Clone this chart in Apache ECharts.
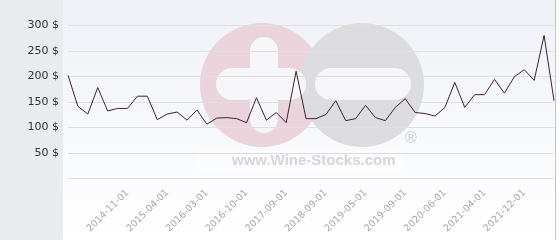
<!DOCTYPE html>
<html><head><meta charset="utf-8">
<script src="https://cdn.jsdelivr.net/npm/echarts@6/dist/echarts.min.js"></script>
<style>html,body{margin:0;padding:0;background:#fff}#c{width:560px;height:240px}</style>
</head><body><div id="c"></div>
<script>
const categories = [
 '2014-04-01','2014-05-01','2014-06-01','2014-07-01','2014-08-01','2014-10-01',
 '2014-11-01','2014-12-01','2015-01-01','2015-03-01',
 '2015-04-01','2015-06-01','2015-09-01','2015-12-01',
 '2016-03-01','2016-05-01','2016-07-01','2016-09-01',
 '2016-10-01','2016-12-01','2017-03-01','2017-06-01',
 '2017-09-01','2017-12-01','2018-03-01','2018-06-01',
 '2018-09-01','2018-11-01','2019-01-01','2019-03-01',
 '2019-05-01','2019-06-01','2019-07-01','2019-08-01',
 '2019-09-01','2019-11-01','2020-01-01','2020-04-01',
 '2020-06-01','2020-08-01','2020-11-01','2021-01-01',
 '2021-04-01','2021-06-01','2021-08-01','2021-10-01',
 '2021-12-01','2022-02-01','2022-04-01','2022-06-01'
];
const prices = [
 202, 141, 126, 178, 132, 137, 137, 161, 161, 115,
 126, 130, 114, 134, 106, 118, 119, 117, 109, 158,
 114, 129, 109, 210, 117, 117, 125, 152, 113, 117,
 143, 119, 113, 139, 156, 129, 127, 122, 139, 188,
 139, 164, 164, 194, 167, 199, 213, 192, 280, 152
];
const tickLabels = ['2014-11-01','2015-04-01','2016-03-01','2016-10-01','2017-09-01',
 '2018-09-01','2019-05-01','2019-09-01','2020-06-01','2021-04-01','2021-12-01'];
const yTicks = [0, 50, 100, 150, 200, 250, 300];

const chart = echarts.init(document.getElementById('c'), null, {renderer:'canvas'});
chart.setOption({
  animation: false,
  graphic: [
    {type:'rect', z:-10, shape:{x:0,y:0,width:63,height:240}, style:{fill:'#e8ecef'}},
    {type:'rect', z:-10, shape:{x:63,y:0,width:493,height:240},
      style:{fill:new echarts.graphic.LinearGradient(0,0,0,1,[{offset:0,color:'#eff1f7'},{offset:1,color:'#ffffff'}])}},
    {type:'rect', z:-9, shape:{x:555,y:0,width:1,height:240}, style:{fill:'#c4c4c4'}},
    {type:'circle', z:-8, shape:{cx:262,cy:85,r:62}, style:{fill:'#ead3da'}},
    {type:'circle', z:-8, shape:{cx:362,cy:85,r:62}, style:{fill:'#dcdcde'}},
    {type:'rect', z:-7, shape:{x:250,y:37,width:28,height:96,r:14}, style:{fill:'#f6f6f9'}},
    {type:'rect', z:-7, shape:{x:216,y:68,width:90,height:32,r:16}, style:{fill:'#f6f6f9'}},
    {type:'rect', z:-7, shape:{x:315,y:68,width:96,height:32,r:16}, style:{fill:'#f6f6f9'}},
    {type:'rect', z:-7, shape:{x:197,y:151,width:206,height:22}, style:{fill:'rgba(255,255,255,0.45)'}},
    {type:'text', z:-6, left:232, top:153, style:{text:'www.Wine-Stocks.com', fill:'#d6d6da', font:'bold 15px "Liberation Sans", Arial, sans-serif'}},
    {type:'text', z:-6, left:405, top:131, style:{text:'®', fill:'#d6d6da', font:'bold 16px "Liberation Sans", Arial, sans-serif'}}
  ],
  grid: {left:68, right:6, top:25.3, bottom:61.7, containLabel:false},
  xAxis: {
    type:'category', data:categories, boundaryGap:false,
    axisLine:{show:false}, axisTick:{show:false}, splitLine:{show:false},
    axisLabel:{
      rotate:45, margin:13, color:'#a6a6a6', fontSize:9.5, fontFamily:'DejaVu Sans',
      interval:(i, v) => tickLabels.indexOf(v) >= 0
    }
  },
  yAxis: {
    type:'value', min:yTicks[0], max:yTicks[yTicks.length-1], interval:50,
    axisLine:{show:false}, axisTick:{show:false},
    splitLine:{lineStyle:{color:'#dedfe3', width:1}},
    axisLabel:{margin:9, color:'#333', fontSize:11, fontFamily:'DejaVu Sans',
      formatter:v => v === 0 ? '' : v + ' $'}
  },
  series: [{
    type:'line', data:prices, showSymbol:false, symbol:'none',
    lineStyle:{color:'#3b2330', width:1}, z:5
  }]
});
</script></body></html>
